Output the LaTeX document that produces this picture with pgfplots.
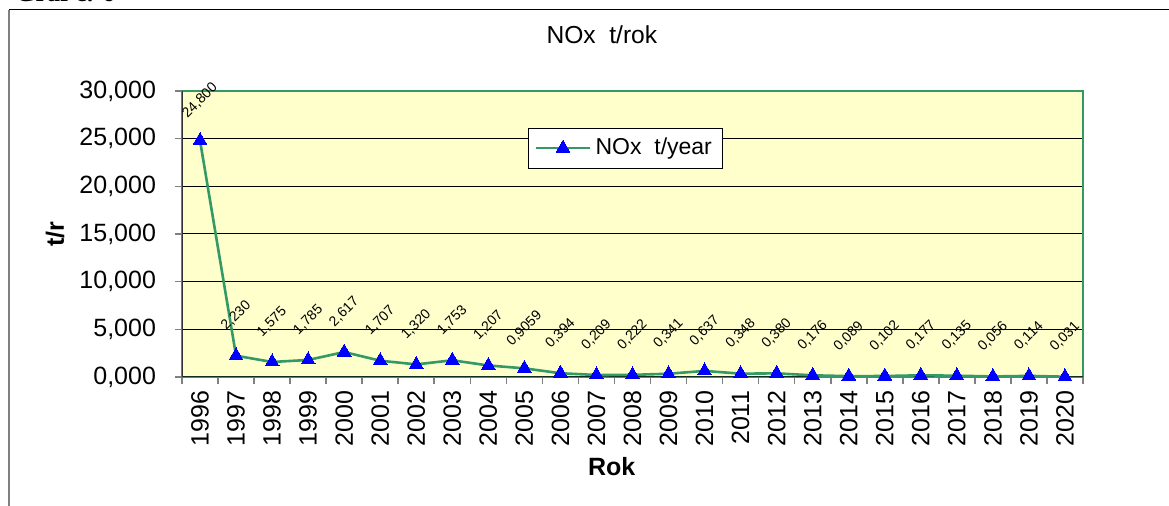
\documentclass[border=0pt]{standalone}
\usepackage{fontspec}
\setmainfont{Liberation Sans}
\newfontfamily\serifcap{Liberation Serif}
\usepackage{pgfplots}
\pgfplotsset{compat=1.18}
\usepackage{pgfplotstable}

\definecolor{seagreen}{RGB}{51,153,102}
\definecolor{plotbg}{RGB}{255,255,204}

% year index, value (t/r), label as printed
\pgfplotstableread{
x  y       lab
0  24.800  24,800
1  2.230   2,230
2  1.575   1,575
3  1.785   1,785
4  2.617   2,617
5  1.707   1,707
6  1.320   1,320
7  1.753   1,753
8  1.207   1,207
9  0.9059  0,9059
10 0.394   0,394
11 0.209   0,209
12 0.222   0,222
13 0.341   0,341
14 0.637   0,637
15 0.348   0,348
16 0.380   0,380
17 0.176   0,176
18 0.089   0,089
19 0.102   0,102
20 0.177   0,177
21 0.135   0,135
22 0.056   0,056
23 0.114   0,114
24 0.031   0,031
}\noxdata

\begin{document}
\begin{tikzpicture}
\useasboundingbox (0pt,0pt) rectangle (584.5pt,253pt);
% caption above the frame, cut off by the page edge
\node[anchor=base west, inner sep=0pt, font=\serifcap\bfseries\fontsize{13}{15}\selectfont]
    at (7.5pt,252.4pt) {Graf č. 6};
% outer chart frame
\draw[gray, line width=1pt] (4.5pt,0pt) -- (4.5pt,248pt);
\draw[black, line width=0.5pt] (4.5pt,248pt) -- (584.5pt,248pt);

\begin{axis}[
    at={(91pt,64.5pt)}, anchor=south west,
    scale only axis, width=450.5pt, height=143pt,
    xmin=-0.5, xmax=24.5, ymin=0, ymax=30,
    axis background/.style={fill=plotbg},
    axis line style={draw=seagreen, line width=1.2pt},
    tick pos=left,
    ytick={0,5,...,30},
    xtick={0,...,24},
    xticklabels={1996,1997,1998,1999,2000,2001,2002,2003,2004,2005,2006,2007,2008,
        2009,2010,2011,2012,2013,2014,2015,2016,2017,2018,2019,2020},
    minor xtick={-0.5,0.5,...,24.5},
    major x tick style={draw=none},
    minor x tick style={draw=gray, line width=0.8pt},
    y tick style={draw=gray, line width=0.8pt},
    tick align=outside,
    major tick length=3.5pt, minor tick length=3.5pt,
    ymajorgrids,
    major grid style={black, line width=0.5pt},
    /pgf/number format/.cd, fixed, zerofill, precision=3, use comma,
        assume math mode=true,
    /pgfplots/.cd,
    yticklabel style={font=\fontsize{12.5}{14}\selectfont, xshift=-6pt},
    xticklabel style={font=\fontsize{12.5}{14}\selectfont, rotate=90, anchor=east},
    title={NOx\ \ t/rok},
    title style={font=\fontsize{12.3}{14}\selectfont, at={(axis description cs:0.466,1.154)}, anchor=center},
    ylabel={t/r},
    ylabel style={font=\fontsize{12.5}{14}\selectfont\bfseries, at={(axis description cs:-0.141,0.5)}, anchor=center},
    xlabel={Rok},
    xlabel style={font=\fontsize{12.5}{14}\selectfont\bfseries, at={(axis description cs:0.477,-0.3147)}, anchor=center},
    legend style={at={(0.384,0.871)}, anchor=north west, draw=black, fill=white,
        font=\fontsize{11.5}{13}\selectfont, inner sep=3pt},
    legend cell align=left,
    legend image code/.code={
        \draw[#1, mark repeat=2, mark phase=2] plot coordinates {(0cm,0cm) (0.48cm,0cm) (0.96cm,0cm)};},
]
\draw[black!80, line width=1pt] (rel axis cs:0,0) -- (rel axis cs:0,1);
\draw[black!70!seagreen, line width=1pt] (rel axis cs:0,0) -- (rel axis cs:1,0);
\addplot[color=seagreen, line width=1.3pt, mark=triangle*, mark size=4pt,
    mark options={fill=blue, draw=blue, line width=0pt},
    nodes near coords, point meta=explicit symbolic,
    every node near coord/.append style={font=\fontsize{7}{8}\selectfont, text=black,
        anchor=center, yshift=20pt, rotate=45, inner sep=0pt}]
    table[x=x, y=y, meta=lab] {\noxdata};
\addlegendentry{NOx\ \ t/year}
\end{axis}
\end{tikzpicture}
\end{document}
